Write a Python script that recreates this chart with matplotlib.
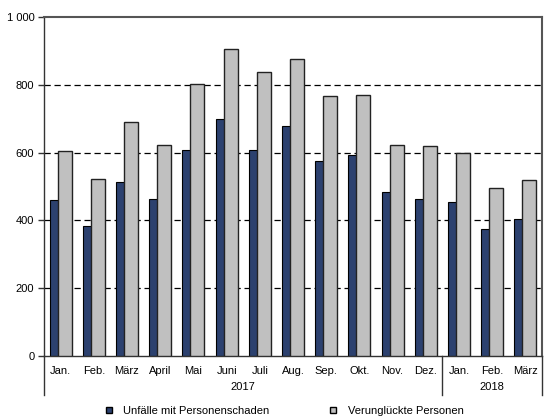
import numpy as np
import matplotlib.pyplot as plt
from matplotlib.lines import Line2D

plt.rcParams['font.family'] = ['Liberation Sans', 'DejaVu Sans']
plt.rcParams['font.size'] = 8

# Daten
monate = ['Jan.', 'Feb.', 'März', 'April', 'Mai', 'Juni', 'Juli', 'Aug.',
          'Sep.', 'Okt.', 'Nov.', 'Dez.', 'Jan.', 'Feb.', 'März']
jahre = ['2017', '2018']
monate_pro_jahr = [12, 3]
unfaelle = [461, 384, 513, 464, 608, 699, 608, 678, 575, 593, 484, 464, 455, 375, 405]
verunglueckte = [604, 521, 691, 623, 802, 905, 838, 877, 768, 771, 623, 618, 600, 497, 518]

dunkel = '#2c416f'
hell = '#c0c0c0'

fig = plt.figure(figsize=(5.6, 4.2), dpi=100)
ax = fig.add_axes([44 / 560, 64 / 420, 498 / 560, 339 / 420])

x = np.arange(len(monate)) + 0.5
w = 0.42
ax.bar(x - 0.12, unfaelle, w, color=dunkel, edgecolor='black', linewidth=0.8, zorder=2)
ax.bar(x + 0.12, verunglueckte, w, color=hell, edgecolor='#222222', linewidth=1.0, zorder=3)

ax.set_xlim(0, len(monate))
ax.set_ylim(0, 1000)
ax.set_yticks(range(0, 1001, 200))
ax.set_yticklabels(['0', '200', '400', '600', '800', '1 000'])
for y in range(200, 1000, 200):
    ax.axhline(y, color='black', linestyle=(0, (5, 3)), linewidth=0.9, zorder=1)

ax.set_xticks(x)
ax.set_xticklabels(monate)
ax.tick_params(axis='x', length=0, pad=7)
ax.tick_params(axis='y', length=4, width=1, pad=3, color='#333333')

for s in ['top', 'right']:
    ax.spines[s].set_color('#555555')
    ax.spines[s].set_linewidth(1.5)
ax.spines['left'].set_color('#333333')
ax.spines['left'].set_linewidth(1.0)
ax.spines['bottom'].set_color('#333333')
ax.spines['bottom'].set_linewidth(1.0)

# Jahres-Trennlinien und Beschriftung
trans = ax.get_xaxis_transform()
grenzen = [0] + list(np.cumsum(monate_pro_jahr))
for g in grenzen:
    ax.plot([g, g], [0, -0.115], color='#333333', linewidth=1.0,
            transform=trans, clip_on=False)
for i, j in enumerate(jahre):
    ax.text((grenzen[i] + grenzen[i + 1]) / 2, -0.09, j, transform=trans,
            ha='center', va='center')

handles = [Line2D([], [], marker='s', linestyle='none', markersize=5,
                  markerfacecolor=dunkel, markeredgecolor='black'),
           Line2D([], [], marker='s', linestyle='none', markersize=5,
                  markerfacecolor=hell, markeredgecolor='black')]
fig.legend(handles, ['Unfälle mit Personenschaden', 'Verunglückte Personen'],
           loc='center', bbox_to_anchor=(0.506, 0.022), ncol=2, frameon=False,
           handlelength=1.0, handletextpad=0.8, columnspacing=5.25)

fig.savefig('out.png', dpi=100)
